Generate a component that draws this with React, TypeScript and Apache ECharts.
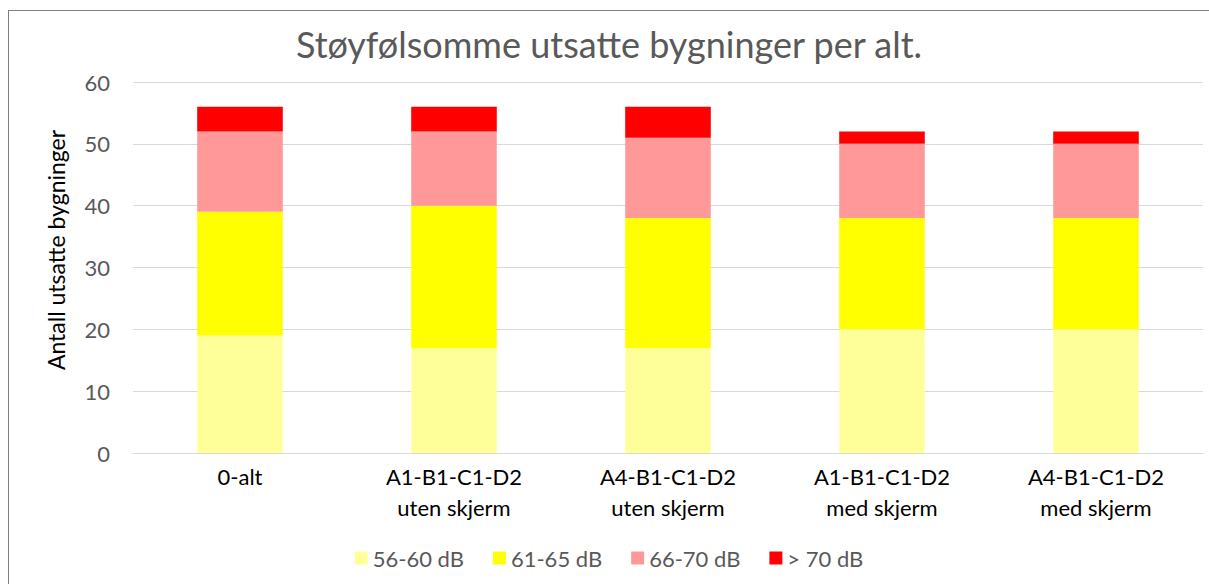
import React, { useEffect, useRef } from "react";
import * as echarts from "echarts";

const categories = [
  "0-alt",
  "A1-B1-C1-D2\nuten skjerm",
  "A4-B1-C1-D2\nuten skjerm",
  "A1-B1-C1-D2\nmed skjerm",
  "A4-B1-C1-D2\nmed skjerm",
];
const seriesNames = ["56-60 dB", "61-65 dB", "66-70 dB", "> 70 dB"];
const s5660 = [19, 17, 17, 20, 20];
const s6165 = [20, 23, 21, 18, 18];
const s6670 = [13, 12, 13, 12, 12];
const s70 = [4, 4, 5, 2, 2];
const colors = ["#FFFF99", "#FFFF00", "#FF9999", "#FF0000"];
const yTicks = { min: 0, max: 60, interval: 10 };
const titleText = "Støyfølsomme utsatte bygninger per alt.";
const yAxisName = "Antall utsatte bygninger";

const FONT = "Lato, 'Noto Sans', sans-serif";

export default function App() {
  const ref = useRef<HTMLDivElement>(null);
  useEffect(() => {
    if (!ref.current) return;
    const chart = echarts.init(ref.current, undefined, { renderer: "svg" });
    const data = [s5660, s6165, s6670, s70];
    chart.setOption({
      animation: false,
      textStyle: { fontFamily: FONT },
      title: {
        text: titleText,
        left: "center",
        top: 10,
        textStyle: { fontFamily: FONT, fontSize: 36, fontWeight: "normal", color: "#595959" },
      },
      legend: {
        top: 531,
        left: "center",
        itemWidth: 13,
        itemHeight: 13,
        itemGap: 29,
        icon: "rect",
        textStyle: { fontFamily: FONT, fontSize: 22, color: "#595959" },
        data: seriesNames,
      },
      graphic: [
        {
          type: "text",
          x: 47,
          y: 239,
          rotation: Math.PI / 2,
          style: {
            text: yAxisName,
            fontFamily: FONT,
            fontSize: 23,
            fill: "#000",
            align: "center",
            verticalAlign: "middle",
          },
        },
      ],
      grid: { left: 124, right: 6, top: 71, bottom: 131 },
      xAxis: {
        type: "category",
        data: categories,
        axisLine: { lineStyle: { color: "#d9d9d9", width: 1 } },
        axisTick: { show: false },
        axisLabel: { fontFamily: FONT, fontSize: 22, color: "#000", lineHeight: 31, margin: 8 },
      },
      yAxis: {
        type: "value",
        min: yTicks.min,
        max: yTicks.max,
        interval: yTicks.interval,
        axisLine: { show: false },
        axisTick: { show: false },
        splitLine: { lineStyle: { color: "#d9d9d9", width: 1 } },
        axisLabel: { fontFamily: FONT, fontSize: 22, color: "#595959", margin: 23 },
      },
      series: seriesNames.map((name, i) => ({
        name,
        type: "bar",
        stack: "total",
        barWidth: "40%",
        data: data[i],
        itemStyle: { color: colors[i] },
      })),
    });
    return () => chart.dispose();
  }, []);
  return (
    <div
      style={{
        position: "absolute",
        left: 8,
        top: 10,
        borderLeft: "1px solid #7f7f7f",
        borderTop: "1px solid #7f7f7f",
        background: "#fff",
      }}
    >
      <div ref={ref} style={{ width: 1200, height: 573 }} />
    </div>
  );
}
